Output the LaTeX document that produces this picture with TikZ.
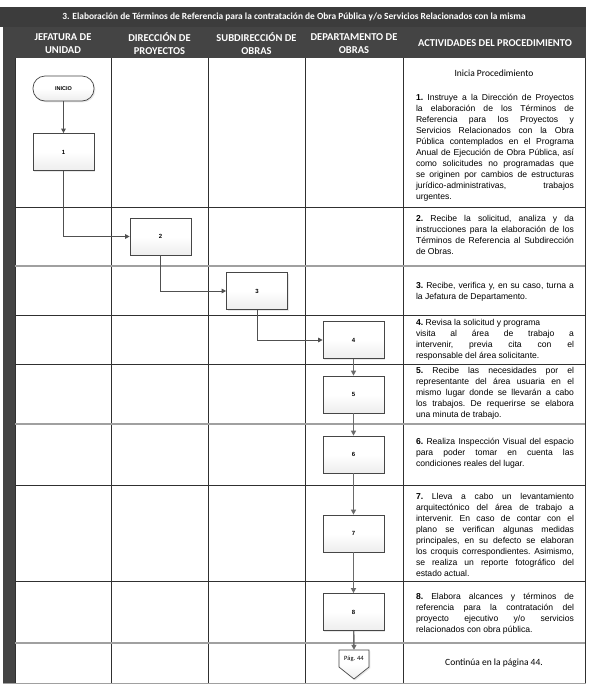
\documentclass[tikz,border=0pt]{standalone}
\usepackage{fontspec}
\setmainfont{Liberation Sans}
\newfontfamily\calib{Carlito}
\usetikzlibrary{shadows,arrows.meta,calc}
\definecolor{titlebg}{HTML}{3C3C3C}
\definecolor{hdrbg}{HTML}{444444}
\definecolor{darkline}{HTML}{303030}
\definecolor{grayline}{HTML}{A0A0A0}
\definecolor{arrcol}{HTML}{505050}
\tikzset{
  stepbox/.style={draw=gray!55!black, line width=0.7pt, top color=white, bottom color=gray!14, middle color=white,
    minimum width=61pt, minimum height=37pt, inner sep=0pt, font=\fontsize{6}{7}\selectfont\bfseries,
    drop shadow={opacity=0.18, shadow xshift=1.3pt, shadow yshift=-1.3pt}},
  termbox/.style={stepbox, minimum height=25pt, rounded corners=12pt, font=\fontsize{5.5}{6}\selectfont\bfseries},
  act/.style={text width=158pt, align=justify, font=\fontsize{8.6}{11}\selectfont\frenchspacing, inner sep=0pt},
  calnote/.style={font=\calib\fontsize{9.5}{11}\selectfont, inner sep=0pt},
  hdrtxt/.style={text=white, font=\calib\bfseries\fontsize{10.5}{13}\selectfont, align=center, inner sep=0pt},
  darkrule/.style={draw=darkline, line width=0.8pt},
  grayrule/.style={draw=grayline, line width=1.5pt},
  flow/.style={draw=arrcol, line width=0.9pt, -{Triangle[length=4.5pt,width=4.5pt]}},
  flowv/.style={draw=arrcol!85, line width=1.4pt, -{Triangle[length=5pt,width=5pt]}},
}
\begin{document}
\begin{tikzpicture}[x=1pt,y=-1pt]
\useasboundingbox (0,0) rectangle (590,689);
% title and header bars
\fill[titlebg] (0,7) rectangle (586,27);
\fill[hdrbg] (15,27) rectangle (586,58);
\fill[hdrbg] (3,27) rectangle (15,684);
\node[text=white, font=\calib\bfseries\fontsize{9.4}{10}\selectfont, inner sep=0pt] (title) at (294,16.5)
  {3. Elaboración de Términos de Referencia para la contratación de Obra Pública y/o Servicios Relacionados con la misma};
\node[hdrtxt] (h1) at (63,43.5) {JEFATURA DE\\UNIDAD};
\node[hdrtxt] (h2) at (159.5,43.5) {DIRECCIÓN DE\\PROYECTOS};
\node[hdrtxt] (h3) at (256.5,43.5) {SUBDIRECCIÓN DE\\OBRAS};
\node[hdrtxt] (h4) at (354,43.5) {DEPARTAMENTO DE\\OBRAS};
\node[hdrtxt] (h5) at (495,43.5) {ACTIVIDADES DEL PROCEDIMIENTO};
% body grid
\fill[white] (15,58) rectangle (585,683);
\foreach \x in {15,111,208,305,403,585} \draw[darkrule] (\x,58) -- (\x,683);
\foreach \y in {207,315,364,485,581} \draw[darkrule] (15,\y) -- (585,\y);
\foreach \y in {266,424,643} \draw[grayrule] (15,\y) -- (585,\y);
\draw[grayrule] (3,683.5) -- (586,683.5);
% flow nodes
\node[termbox] (inicio) at (63.5,88.5) {INICIO};
\node[stepbox] (b1) at (63.5,152) {1};
\node[stepbox] (b2) at (160.5,236.5) {2};
\node[stepbox] (b3) at (257,291) {3};
\node[stepbox] (b4) at (353.5,340) {4};
\node[stepbox] (b5) at (353.5,394.5) {5};
\node[stepbox] (b6) at (353.5,454.5) {6};
\node[stepbox] (b7) at (353.5,533.5) {7};
\node[stepbox] (b8) at (353.5,612) {8};
% off-page connector
\coordinate (pnw) at (339,650);
\coordinate (pne) at (369,650);
\coordinate (pse) at (369,667);
\coordinate (psw) at (339,667);
\coordinate (ptip) at (354,679);
\path[draw=gray!55!black, line width=0.7pt, top color=white, bottom color=gray!14, middle color=white,
  drop shadow={opacity=0.18, shadow xshift=1.3pt, shadow yshift=-1.3pt}]
  (pnw) -- (pne) -- (pse) -- (ptip) -- (psw) -- cycle;
\node[font=\calib\fontsize{6.5}{7}\selectfont, inner sep=0pt, minimum width=30pt, minimum height=17pt] (pag) at (354,658.5) {Pág. 44};
% connectors
\draw[flow] (inicio) -- (b1);
\draw[flow] (b1.south) |- (b2.west);
\draw[flow] (b2.south) |- (b3.west);
\draw[flow] (b3.south) |- (b4.west);
\draw[flowv] (b4) -- (b5);
\draw[flowv] (b5) -- (b6);
\draw[flowv] (b6) -- (b7);
\draw[flowv] (b7) -- (b8);
\draw[flowv] (b8) -- (pag.north);
% activity texts
\node[calnote] (ini) at (494,73) {Inicia Procedimiento};
\node[act] (t1) at (495,147.5) {\textbf{1.} Instruye a la Dirección de Proyectos\linebreak
 la elaboración de los Términos de\linebreak
 Referencia para los Proyectos y\linebreak
 Servicios Relacionados con la Obra\linebreak
 Pública contemplados en el Programa\linebreak
 Anual de Ejecución de Obra Pública, así\linebreak
 como solicitudes no programadas que\linebreak
 se originen por cambios de estructuras\linebreak
 jurídico-administrativas, trabajos\linebreak
 urgentes.};
\node[act] (t2) at (495,235) {\textbf{2.} Recibe la solicitud, analiza y da\linebreak
 instrucciones para la elaboración de los\linebreak
 Términos de Referencia al Subdirección\linebreak
 de Obras.};
\node[act] (t3) at (495,292) {\textbf{3.} Recibe, verifica y, en su caso, turna a\linebreak
 la Jefatura de Departamento.};
\node[act] (t4) at (495,339.5) {\textbf{4.} Revisa la solicitud y programa\\
 visita al área de trabajo a\linebreak
 intervenir, previa cita con el\linebreak
 responsable del área solicitante.};
\node[act] (t5) at (495,393.5) {\textbf{5.} Recibe las necesidades por el\linebreak
 representante del área usuaria en el\linebreak
 mismo lugar donde se llevarán a cabo\linebreak
 los trabajos. De requerirse se elabora\linebreak
 una minuta de trabajo.};
\node[act] (t6) at (495,453) {\textbf{6.} Realiza Inspección Visual del espacio\linebreak
 para poder tomar en cuenta las\linebreak
 condiciones reales del lugar.};
\node[act] (t7) at (495,535) {\textbf{7.} Lleva a cabo un levantamiento\linebreak
 arquitectónico del área de trabajo a\linebreak
 intervenir. En caso de contar con el\linebreak
 plano se verifican algunas medidas\linebreak
 principales, en su defecto se elaboran\linebreak
 los croquis correspondientes. Asimismo,\linebreak
 se realiza un reporte fotográfico del\linebreak
 estado actual.};
\node[act] (t8) at (495,614) {\textbf{8.} Elabora alcances y términos de\linebreak
 referencia para la contratación del\linebreak
 proyecto ejecutivo y/o servicios\linebreak
 relacionados con obra pública.};
\node[calnote] (cont) at (494,663) {Continúa en la página 44.};
\end{tikzpicture}
\end{document}
